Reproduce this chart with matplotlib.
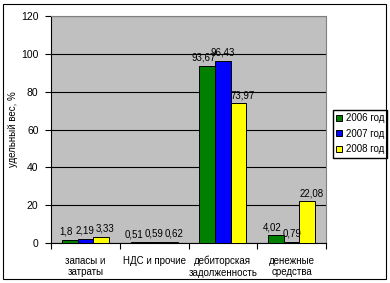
import numpy as np
import matplotlib
matplotlib.use("Agg")
import matplotlib.pyplot as plt
from matplotlib.patches import Rectangle

plt.rcParams['font.family'] = ['Liberation Sans', 'DejaVu Sans']

# %% data
categories = ["запасы и\nзатраты", "НДС и прочие", "дебиторская\nзадолженность", "денежные\nсредства"]
years = ["2006 год", "2007 год", "2008 год"]
v2006 = [1.8, 0.51, 93.67, 4.02]
v2007 = [2.19, 0.59, 96.43, 0.79]
v2008 = [3.33, 0.62, 73.97, 22.08]
labels2006 = ["1,8", "0,51", "93,67", "4,02"]
labels2007 = ["2,19", "0,59", "96,43", "0,79"]
labels2008 = ["3,33", "0,62", "73,97", "22,08"]
colors = ["#008000", "#0000FF", "#FFFF00"]

# %% figure
fig = plt.figure(figsize=(3.9, 2.83), dpi=100)
fig.patches.append(Rectangle((3 / 390, 4 / 283), 383 / 390, 275 / 283, transform=fig.transFigure,
                             fill=False, edgecolor="black", linewidth=0.8))
ax = fig.add_axes([51 / 390, 1 - 243 / 283, 275 / 390, 227 / 283])
ax.set_facecolor("#C0C0C0")

x = np.arange(len(categories))
w = 0.228
label_shift = [-4, 0, 4]  # label nudges (pixels) so neighbouring values don't collide
series = [(v2006, labels2006), (v2007, labels2007), (v2008, labels2008)]
for i, (vals, labs) in enumerate(series):
    pos = x + (i - 1) * w
    ax.bar(pos, vals, w, color=colors[i], edgecolor="black", linewidth=0.7,
           label=years[i], zorder=3)
    for p, v, t in zip(pos, vals, labs):
        ax.annotate(t, (p, v), xytext=(label_shift[i], 3), textcoords="offset pixels",
                    ha="center", va="bottom", fontsize=7, zorder=4)

ax.set_xlim(-0.5, len(categories) - 0.5)
ax.set_ylim(0, 120)
ax.set_yticks(range(0, 121, 20))
ax.yaxis.grid(True, color="black", linewidth=0.8, zorder=1)
ax.set_axisbelow(True)
ax.set_xticks(np.arange(-0.5, len(categories), 1))
ax.set_xticklabels([])
ax.set_xticks(x, minor=True)
ax.set_xticklabels(categories, minor=True, fontsize=7)
ax.tick_params(axis="x", which="minor", length=0, pad=9)
ax.tick_params(axis="x", which="major", length=4, direction="out")
ax.tick_params(axis="y", labelsize=7.5, length=4, direction="out", pad=5)
ax.set_ylabel("удельный вес, %", fontsize=7)
ax.yaxis.set_label_coords(-33 / 275, 0.5)

for side in ["top", "right"]:
    ax.spines[side].set_color("#808080")
ax.spines["left"].set_color("black")
ax.spines["bottom"].set_color("black")

ax.legend(loc="upper left", bbox_to_anchor=(333 / 390, 1 - 110 / 283),
          bbox_transform=fig.transFigure, fontsize=7, frameon=True,
          fancybox=False, edgecolor="black", framealpha=1, handlelength=0.6,
          handleheight=0.6, handletextpad=0.35, borderpad=0.35, labelspacing=0.55,
          borderaxespad=0)

fig.savefig("out.png", dpi=100)
